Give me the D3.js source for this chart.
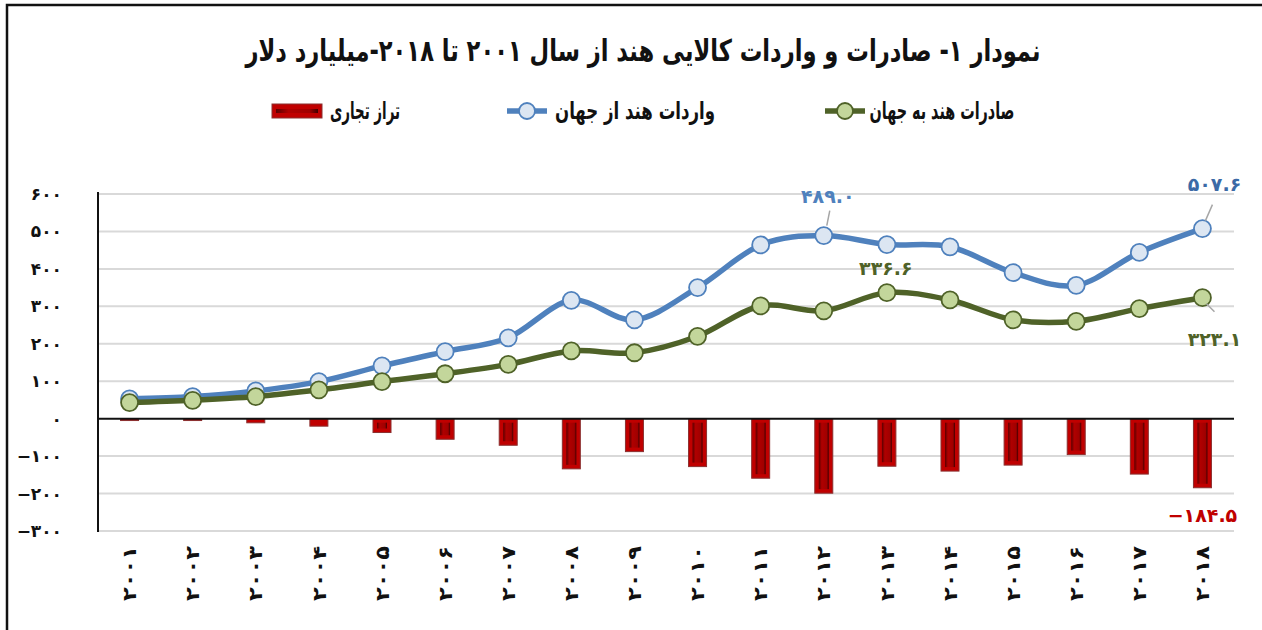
<!DOCTYPE html>
<html>
<head>
<meta charset="utf-8">
<script src="https://cdn.jsdelivr.net/npm/d3@7"></script>
<style>
  html, body { margin: 0; padding: 0; background: #fff; }
  svg { display: block; font-family: "DejaVu Sans", sans-serif; }
</style>
</head>
<body>
<svg id="chart" width="1262" height="630"></svg>
<script>
const years = [2001, 2002, 2003, 2004, 2005, 2006, 2007, 2008, 2009, 2010, 2011, 2012, 2013, 2014, 2015, 2016, 2017, 2018]
const exportsVals = [43, 49, 59, 77, 99, 120, 145, 181, 176, 220, 301, 288, 336.6, 317, 264, 260, 294, 323.1]
const importsVals = [53, 59, 74, 99, 141, 179, 216, 316, 264, 350, 464, 489.0, 465, 459, 390, 356, 444, 507.6]
const balanceVals = [-5, -5, -11, -20, -37, -55, -71, -134, -88, -128, -159, -199, -127, -140, -124, -96, -148, -184.5]
const yTicks = [600, 500, 400, 300, 200, 100, 0, -100, -200, -300]

const titleText = 'نمودار ۱- صادرات و واردات کالایی هند از سال ۲۰۰۱ تا ۲۰۱۸-میلیارد دلار'
const legendNames = ['صادرات هند به جهان', 'واردات هند از جهان', 'تراز تجاری']

const faDigits = '۰۱۲۳۴۵۶۷۸۹'
const fa = s => String(s).replace(/[0-9]/g, d => faDigits[+d])

const svg = d3.select('#chart')

// outer frame
svg.append('rect')
  .attr('x', 7).attr('y', 5)
  .attr('width', 1300).attr('height', 700)
  .attr('fill', 'none')
  .attr('stroke', '#111')
  .attr('stroke-width', 2.5)

const x = d3.scaleBand()
  .domain(years)
  .range([98, 1234])
  .padding(0)
const cx = d => x(d) + x.bandwidth() / 2

const y = d3.scaleLinear()
  .domain([-300, 600])
  .range([531, 194])

// gridlines
svg.append('g')
  .selectAll('line')
  .data(yTicks.filter(d => d !== 0))
  .join('line')
  .attr('x1', 98).attr('x2', 1234)
  .attr('y1', d => y(d)).attr('y2', d => y(d))
  .attr('stroke', '#d9d9d9')
  .attr('stroke-width', 2)

// y tick labels
svg.append('g')
  .selectAll('text')
  .data(yTicks)
  .join('text')
  .attr('x', 62)
  .attr('y', d => y(d))
  .attr('dy', '0.35em')
  .attr('text-anchor', 'end')
  .attr('font-size', 17)
  .attr('font-weight', 'bold')
  .attr('fill', '#111')
  .text(d => d < 0 ? '−' + fa(-d) : fa(d))

// bars (trade balance)
const defs = svg.append('defs')
const grad = defs.append('linearGradient').attr('id', 'barInner')
  .attr('x1', 0).attr('x2', 1).attr('y1', 0).attr('y2', 0)
grad.append('stop').attr('offset', '0%').attr('stop-color', '#5a0000')
grad.append('stop').attr('offset', '30%').attr('stop-color', '#b00000')
grad.append('stop').attr('offset', '80%').attr('stop-color', '#a00000')
grad.append('stop').attr('offset', '100%').attr('stop-color', '#400000')

const barW = 18
const bars = svg.append('g')
  .selectAll('g')
  .data(years.map((yr, i) => ({yr, v: balanceVals[i]})))
  .join('g')

bars.append('rect')
  .attr('x', d => cx(d.yr) - barW / 2)
  .attr('y', y(0))
  .attr('width', barW)
  .attr('height', d => y(d.v) - y(0))
  .attr('fill', '#c00000')
  .attr('stroke', '#8a3030')
  .attr('stroke-width', 1)

bars.filter(d => y(d.v) - y(0) > 10)
  .append('rect')
  .attr('x', d => cx(d.yr) - barW / 2 + 4)
  .attr('y', y(0) + 4)
  .attr('width', barW - 8)
  .attr('height', d => y(d.v) - y(0) - 8)
  .attr('fill', 'url(#barInner)')

// axis lines
svg.append('line')
  .attr('x1', 98).attr('x2', 1234)
  .attr('y1', y(0)).attr('y2', y(0))
  .attr('stroke', '#111').attr('stroke-width', 2)
svg.append('line')
  .attr('x1', 98).attr('x2', 98)
  .attr('y1', 192).attr('y2', 532)
  .attr('stroke', '#111').attr('stroke-width', 2)

// x tick labels (rotated)
svg.append('g')
  .selectAll('text')
  .data(years)
  .join('text')
  .attr('transform', d => `translate(${cx(d)},546) rotate(-90)`)
  .attr('text-anchor', 'end')
  .attr('dy', '0.35em')
  .attr('font-size', 19)
  .attr('font-weight', 'bold')
  .attr('fill', '#111')
  .attr('textLength', 55)
  .attr('lengthAdjust', 'spacingAndGlyphs')
  .text(d => fa(d))

// lines
const line = d3.line()
  .x(d => cx(d.yr))
  .y(d => y(d.v))
  .curve(d3.curveCatmullRom.alpha(0))

const series = [
  {name: 'imports', vals: importsVals, stroke: '#4f81bd', fill: '#dce6f2'},
  {name: 'exports', vals: exportsVals, stroke: '#4f6228', fill: '#c3d69b'}
]

series.forEach(s => {
  const pts = years.map((yr, i) => ({yr, v: s.vals[i]}))
  svg.append('path')
    .datum(pts)
    .attr('d', line)
    .attr('fill', 'none')
    .attr('stroke', s.stroke)
    .attr('stroke-width', 5.5)
    .attr('stroke-linejoin', 'round')
  svg.append('g')
    .selectAll('circle')
    .data(pts)
    .join('circle')
    .attr('cx', d => cx(d.yr))
    .attr('cy', d => y(d.v))
    .attr('r', 8.5)
    .attr('fill', s.fill)
    .attr('stroke', s.stroke)
    .attr('stroke-width', 1.8)
})

// data labels with leader lines
const labels = [
  {i: 11, vals: importsVals, color: '#4f81bd', dx: 4, ty: 203, l: [3, -10, 6, -25]},
  {i: 17, vals: importsVals, color: '#3c6aa6', dx: 12, ty: 191, l: [3, -8, 10, -24]},
  {i: 12, vals: exportsVals, color: '#4f6228', dx: -1, ty: 275, l: null},
  {i: 17, vals: exportsVals, color: '#4f6228', dx: 12, ty: 346, l: [4, 6, 12, 14]},
  {i: 17, vals: balanceVals, color: '#c00000', dx: 0, ty: 522, l: null}
]
labels.forEach(lb => {
  const px = cx(years[lb.i]), py = y(lb.vals[lb.i])
  if (lb.l) {
    svg.append('line')
      .attr('x1', px + lb.l[0]).attr('y1', py + lb.l[1])
      .attr('x2', px + lb.l[2]).attr('y2', py + lb.l[3])
      .attr('stroke', '#a6a6a6').attr('stroke-width', 1.5)
  }
  const v = lb.vals[lb.i]
  svg.append('text')
    .attr('x', px + lb.dx)
    .attr('y', lb.ty)
    .attr('text-anchor', 'middle')
    .attr('font-size', 19)
    .attr('font-weight', 'bold')
    .attr('fill', lb.color)
    .text((v < 0 ? '−' : '') + fa(Math.abs(v).toFixed(1)))
})

// title
svg.append('text')
  .attr('x', 643)
  .attr('y', 61)
  .attr('text-anchor', 'middle')
  .attr('font-size', 30)
  .attr('font-weight', 'bold')
  .attr('fill', '#111')
  .attr('direction', 'rtl')
  .attr('textLength', 795)
  .attr('lengthAdjust', 'spacingAndGlyphs')
  .text(titleText)

// legend
const legend = svg.append('g')
const legItems = [
  {cx: 942, w: 145, mx: 845, type: 'line', stroke: '#4f6228', fill: '#c3d69b'},
  {cx: 635, w: 160, mx: 527, type: 'line', stroke: '#4f81bd', fill: '#dce6f2'},
  {cx: 365, w: 70, mx: 297, type: 'bar'}
]
legItems.forEach((it, k) => {
  const ly = 111
  if (it.type === 'line') {
    legend.append('line')
      .attr('x1', it.mx - 20).attr('x2', it.mx + 20)
      .attr('y1', ly).attr('y2', ly)
      .attr('stroke', it.stroke).attr('stroke-width', 5.5)
    legend.append('circle')
      .attr('cx', it.mx).attr('cy', ly).attr('r', 8)
      .attr('fill', it.fill).attr('stroke', it.stroke).attr('stroke-width', 1.8)
  } else {
    legend.append('rect')
      .attr('x', it.mx - 25).attr('y', ly - 7)
      .attr('width', 50).attr('height', 14)
      .attr('fill', '#c00000').attr('stroke', '#8a3030')
    legend.append('rect')
      .attr('x', it.mx - 21).attr('y', ly - 2)
      .attr('width', 42).attr('height', 4)
      .attr('fill', 'url(#barInner)')
  }
  legend.append('text')
    .attr('x', it.cx)
    .attr('y', ly + 8)
    .attr('text-anchor', 'middle')
    .attr('font-size', 24)
    .attr('font-weight', 'bold')
    .attr('fill', '#111')
    .attr('direction', 'rtl')
    .attr('textLength', it.w)
    .attr('lengthAdjust', 'spacingAndGlyphs')
    .text(legendNames[k])
})
</script>
</body>
</html>
